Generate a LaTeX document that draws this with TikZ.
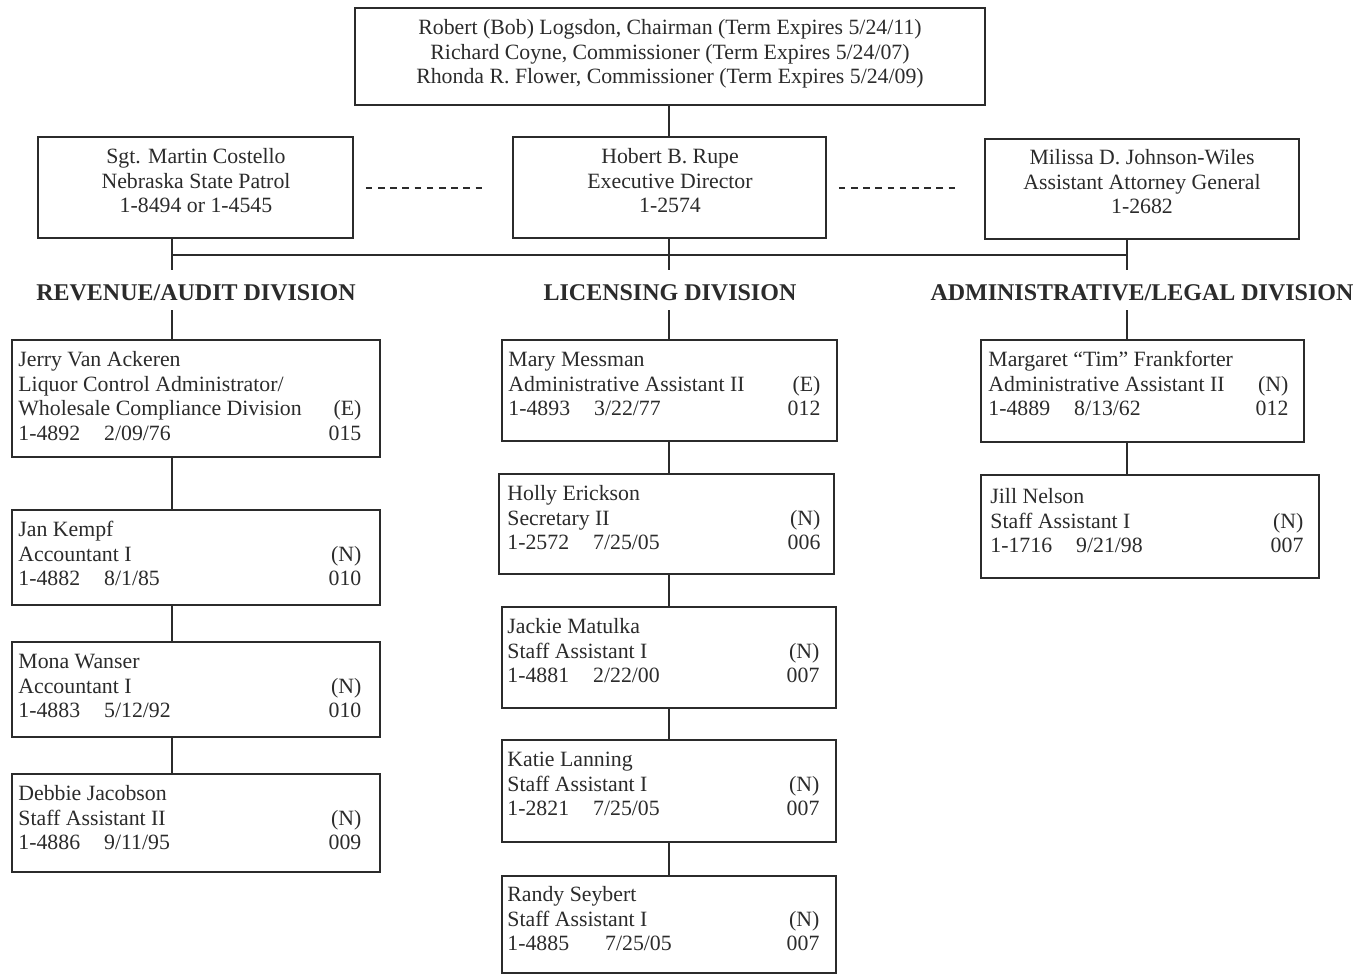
\documentclass[tikz,border=0pt]{standalone}
\usepackage{fontspec}
\setmainfont{Liberation Serif}
\usetikzlibrary{fit}
\definecolor{ink}{HTML}{2B2B2B}
\newcommand{\ent}[2]{\begin{tabular*}{#1}{@{}l@{\extracolsep{\fill}}r@{}}#2\end{tabular*}}
\newcommand{\ctr}[1]{\begin{tabular}{@{}c@{}}#1\end{tabular}}
\newcommand{\gap}{\hspace{12pt}}
\begin{document}
\begin{tikzpicture}[x=0.5pt,y=-0.5pt,
  box/.style={draw=ink, line width=0.8pt, inner sep=0pt},
  etext/.style={inner sep=0pt, text=ink, font=\fontsize{10.9}{12.25}\selectfont},
  divlabel/.style={inner sep=0pt, text=ink, font=\fontsize{12}{14}\selectfont\bfseries},
  conn/.style={draw=ink, line width=0.8pt},
  dashline/.style={draw=ink, line width=0.8pt, dash pattern=on 3.3pt off 2.8pt}]
\useasboundingbox[fill=white] (0,0) rectangle (1360,975);

% helper coordinates
\coordinate (revx) at (172,0);
\coordinate (licx) at (669,0);
\coordinate (admx) at (1127,0);
\coordinate (bary) at (0,255);
\coordinate (divtop) at (0,270);
\coordinate (divbot) at (0,310);
\coordinate (dashy) at (0,188);

% top boxes
\node[box, fit={(355,8) (985,105)}] (board) {};
\node[etext, anchor=north] (boardt) at (670,17) {\ctr{Robert (Bob) Logsdon, Chairman (Term Expires 5/24/11)\\ Richard Coyne, Commissioner (Term Expires 5/24/07)\\ Rhonda R. Flower, Commissioner (Term Expires 5/24/09)}};

\node[box, fit={(38,137) (353,238)}] (costello) {};
\node[etext, anchor=north] (costellot) at (196,146) {\ctr{Sgt. Martin Costello\\ Nebraska State Patrol\\ 1-8494 or 1-4545}};

\node[box, fit={(513,137) (826,238)}] (rupe) {};
\node[etext, anchor=north] (rupet) at (670,146) {\ctr{Hobert B. Rupe\\ Executive Director\\ 1-2574}};

\node[box, fit={(985,139) (1299,239)}] (jw) {};
\node[etext, anchor=north] (jwt) at (1142,147) {\ctr{Milissa D. Johnson-Wiles\\ Assistant Attorney General\\ 1-2682}};

% division labels
\node[divlabel, anchor=base] (revlab) at (196,300) {REVENUE/AUDIT DIVISION};
\node[divlabel, anchor=base] (liclab) at (670,300) {LICENSING DIVISION};
\node[divlabel, anchor=base] (admlab) at (1142,300) {ADMINISTRATIVE/LEGAL DIVISION};

% revenue column
\node[box, fit={(12,340) (380,457)}] (jerry) {};
\node[etext, anchor=north west] (jerryt) at (18,349) {\ent{171.5pt}{Jerry Van Ackeren & \\ Liquor Control Administrator/ & \\ Wholesale Compliance Division & (E)\\ 1-4892\gap 2/09/76 & 015}};
\node[box, fit={(12,510) (380,605)}] (jan) {};
\node[etext, anchor=north west] (jant) at (18,519) {\ent{171.5pt}{Jan Kempf & \\ Accountant I & (N)\\ 1-4882\gap 8/1/85 & 010}};
\node[box, fit={(12,642) (380,737)}] (mona) {};
\node[etext, anchor=north west] (monat) at (18,651) {\ent{171.5pt}{Mona Wanser & \\ Accountant I & (N)\\ 1-4883\gap 5/12/92 & 010}};
\node[box, fit={(12,774) (380,872)}] (debbie) {};
\node[etext, anchor=north west] (debbiet) at (18,783) {\ent{171.5pt}{Debbie Jacobson & \\ Staff Assistant II & (N)\\ 1-4886\gap 9/11/95 & 009}};

% licensing column
\node[box, fit={(502,340) (837,441)}] (mary) {};
\node[etext, anchor=north west] (maryt) at (508,349) {\ent{156pt}{Mary Messman & \\ Administrative Assistant II & (E)\\ 1-4893\gap 3/22/77 & 012}};
\node[box, fit={(499,474) (834,574)}] (holly) {};
\node[etext, anchor=north west] (hollyt) at (507,483) {\ent{156.5pt}{Holly Erickson & \\ Secretary II & (N)\\ 1-2572\gap 7/25/05 & 006}};
\node[box, fit={(502,607) (836,708)}] (jackie) {};
\node[etext, anchor=north west] (jackiet) at (507,616) {\ent{156pt}{Jackie Matulka & \\ Staff Assistant I & (N)\\ 1-4881\gap 2/22/00 & 007}};
\node[box, fit={(502,740) (836,842)}] (katie) {};
\node[etext, anchor=north west] (katiet) at (507,749) {\ent{156pt}{Katie Lanning & \\ Staff Assistant I & (N)\\ 1-2821\gap 7/25/05 & 007}};
\node[box, fit={(502,876) (836,973)}] (randy) {};
\node[etext, anchor=north west] (randyt) at (507,884) {\ent{156pt}{Randy Seybert & \\ Staff Assistant I & (N)\\ 1-4885\hspace{18pt}7/25/05 & 007}};

% admin column
\node[box, fit={(981,340) (1304,442)}] (margaret) {};
\node[etext, anchor=north west] (margarett) at (988,349) {\ent{150pt}{Margaret ``Tim'' Frankforter & \\ Administrative Assistant II & (N)\\ 1-4889\gap 8/13/62 & 012}};
\node[box, fit={(981,475) (1319,578)}] (jill) {};
\node[etext, anchor=north west] (jillt) at (990,486) {\ent{156.5pt}{Jill Nelson & \\ Staff Assistant I & (N)\\ 1-1716\gap 9/21/98 & 007}};

% connectors
\draw[conn] (board.south -| licx) -- (rupe.north -| licx);
\draw[dashline, shorten <=6pt, shorten >=13pt] (costello.east |- dashy) -- (rupe.west |- dashy);
\draw[dashline, shorten <=6pt, shorten >=12.5pt] (rupe.east |- dashy) -- (jw.west |- dashy);
\draw[conn] (revx |- bary) -- (admx |- bary);
\draw[conn] (costello.south -| revx) -- (revx |- divtop);
\draw[conn] (rupe.south -| licx) -- (licx |- divtop);
\draw[conn] (jw.south -| admx) -- (admx |- divtop);
\draw[conn] (revx |- divbot) -- (jerry.north -| revx);
\draw[conn] (licx |- divbot) -- (mary.north -| licx);
\draw[conn] (admx |- divbot) -- (margaret.north -| admx);

\draw[conn] (jerry.south -| revx) -- (jan.north -| revx);
\draw[conn] (jan.south -| revx) -- (mona.north -| revx);
\draw[conn] (mona.south -| revx) -- (debbie.north -| revx);

\draw[conn] (mary.south -| licx) -- (holly.north -| licx);
\draw[conn] (holly.south -| licx) -- (jackie.north -| licx);
\draw[conn] (jackie.south -| licx) -- (katie.north -| licx);
\draw[conn] (katie.south -| licx) -- (randy.north -| licx);

\draw[conn] (margaret.south -| admx) -- (jill.north -| admx);
\end{tikzpicture}
\end{document}
